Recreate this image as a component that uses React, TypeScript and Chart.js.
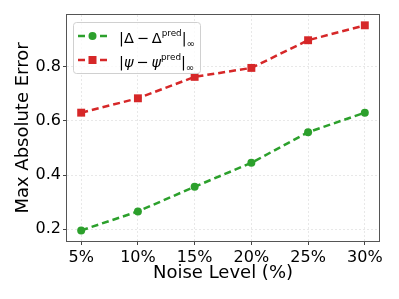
import React, { useEffect, useRef } from "react";
import { Chart, registerables } from "chart.js";

Chart.register(...registerables);

const categories = ["5%", "10%", "15%", "20%", "25%", "30%"];
const deltaErrors = [0.196, 0.266, 0.357, 0.445, 0.558, 0.63];
const psiErrors = [0.63, 0.683, 0.762, 0.795, 0.897, 0.952];
const yTicks = [0.2, 0.4, 0.6, 0.8];
const xAxisTitle = "Noise Level (%)";
const yAxisTitle = "Max Absolute Error";

type Piece = { t: string; sup?: boolean; sub?: boolean; it?: boolean };
const deltaLegend: Piece[] = [
  { t: "|Δ\u2009−\u2009Δ" },
  { t: "pred", sup: true },
  { t: "|" },
  { t: "∞", sub: true },
];
const psiLegend: Piece[] = [
  { t: "|" },
  { t: "ψ", it: true },
  { t: "\u2009−\u2009" },
  { t: "ψ", it: true },
  { t: "pred", sup: true },
  { t: "|" },
  { t: "∞", sub: true },
];
const legendPieces = [deltaLegend, psiLegend];

const FONT = "DejaVu Sans";
const GREEN = "#2ca02c";
const RED = "#d62728";

const framePlugin = {
  id: "frame",
  afterDatasetsDraw(chart: any) {
    const { ctx, chartArea } = chart;
    ctx.save();
    ctx.strokeStyle = "#555";
    ctx.lineWidth = 1;
    ctx.strokeRect(
      Math.round(chartArea.left) - 0.5,
      Math.round(chartArea.top) - 0.5,
      Math.round(chartArea.right - chartArea.left) + 1,
      Math.round(chartArea.bottom - chartArea.top) + 1
    );
    ctx.restore();
  },
};

const legendPlugin = {
  id: "mathLegend",
  afterDraw(chart: any) {
    const { ctx, chartArea } = chart;
    const x0 = Math.round(chartArea.left) + 6;
    const y0 = Math.round(chartArea.top) + 7;
    const w = 127;
    const h = 51;
    ctx.save();
    ctx.beginPath();
    ctx.roundRect(x0 + 0.5, y0 + 0.5, w, h, 3);
    ctx.fillStyle = "rgba(255,255,255,0.8)";
    ctx.fill();
    ctx.strokeStyle = "#d0d0d0";
    ctx.lineWidth = 1;
    ctx.stroke();
    chart.data.datasets.forEach((ds: any, i: number) => {
      const ly = y0 + 14 + i * 24;
      const lx1 = x0 + 5;
      const lx2 = x0 + 34;
      ctx.save();
      ctx.strokeStyle = ds.borderColor;
      ctx.lineWidth = ds.borderWidth;
      ctx.setLineDash(ds.borderDash);
      ctx.beginPath();
      ctx.moveTo(lx1, ly);
      ctx.lineTo(lx2, ly);
      ctx.stroke();
      ctx.restore();
      const mx = (lx1 + lx2) / 2;
      ctx.fillStyle = ds.backgroundColor;
      if (ds.pointStyle === "rect") {
        ctx.fillRect(mx - 4, ly - 4, 8, 8);
      } else {
        ctx.beginPath();
        ctx.arc(mx, ly, 4, 0, Math.PI * 2);
        ctx.fill();
      }
      let tx = x0 + 46;
      ctx.fillStyle = "#000";
      ctx.textBaseline = "alphabetic";
      ctx.textAlign = "left";
      for (const p of legendPieces[i]) {
        let size = 14.5;
        let by = ly + 7.3;
        if (p.sup) {
          size = 8.8;
          by = ly;
        } else if (p.sub) {
          size = 10;
          by = ly + 10.8;
        }
        ctx.font = `${p.it ? "italic " : ""}${size}px "${FONT}"`;
        ctx.fillText(p.t, tx, by);
        tx += ctx.measureText(p.t).width;
      }
    });
    ctx.restore();
  },
};

export default function App() {
  const ref = useRef<HTMLCanvasElement>(null);
  useEffect(() => {
    const gridOpts = {
      color: "#e2e2e2",
      lineWidth: 0.8,
      tickLength: 4,
      tickColor: "#444",
      tickWidth: 1,
    };
    const chart = new Chart(ref.current as HTMLCanvasElement, {
      type: "line",
      data: {
        datasets: [
          {
            label: "delta",
            data: deltaErrors.map((y, i) => ({ x: i, y })),
            borderColor: GREEN,
            backgroundColor: GREEN,
            borderWidth: 2.5,
            borderDash: [7, 4],
            pointStyle: "circle",
            pointRadius: 4,
            pointBorderWidth: 0,
            tension: 0,
            fill: false,
          } as any,
          {
            label: "psi",
            data: psiErrors.map((y, i) => ({ x: i, y })),
            borderColor: RED,
            backgroundColor: RED,
            borderWidth: 2.5,
            borderDash: [7, 4],
            pointStyle: "rect",
            pointRadius: 5.6,
            pointBorderWidth: 0,
            tension: 0,
            fill: false,
          } as any,
        ],
      },
      options: {
        animation: false,
        responsive: false,
        devicePixelRatio: 1,
        layout: { padding: { left: 0, right: 20, top: 15, bottom: 0 } },
        plugins: { legend: { display: false }, tooltip: { enabled: false } },
        scales: {
          x: {
            type: "linear",
            min: -0.25,
            max: 5.25,
            afterBuildTicks: (s: any) => {
              s.ticks = categories.map((_, i) => ({ value: i }));
            },
            afterFit: (s: any) => {
              s.height = 58;
            },
            ticks: {
              callback: (v: any) => categories[v as number] ?? "",
              font: { family: FONT, size: 16 },
              color: "#000",
              padding: 3,
              maxRotation: 0,
              autoSkip: false,
            },
            grid: gridOpts,
            border: { display: false, dash: [2, 2] },
            title: {
              display: true,
              text: xAxisTitle,
              color: "#000",
              font: { family: FONT, size: 18, lineHeight: 1.2 },
              padding: { top: 0, bottom: 15 },
            },
          } as any,
          y: {
            type: "linear",
            min: 0.157,
            max: 0.99,
            afterBuildTicks: (s: any) => {
              s.ticks = yTicks.map((v) => ({ value: v }));
            },
            afterFit: (s: any) => {
              s.width = 67;
            },
            ticks: {
              callback: (v: any) => Number(v).toFixed(1),
              font: { family: FONT, size: 16 },
              color: "#000",
              padding: 2,
            },
            grid: gridOpts,
            border: { display: false, dash: [2, 2] },
            title: {
              display: true,
              text: yAxisTitle,
              color: "#000",
              font: { family: FONT, size: 18, lineHeight: 1.2 },
              padding: { top: 13, bottom: 0 },
            },
          } as any,
        },
      },
      plugins: [framePlugin, legendPlugin],
    });
    return () => chart.destroy();
  }, []);
  return (
    <div
      style={{
        position: "fixed",
        left: 0,
        top: 0,
        width: 399,
        height: 299,
        background: "#fff",
      }}
    >
      <canvas ref={ref} width={399} height={299} style={{ width: 399, height: 299 }} />
    </div>
  );
}
